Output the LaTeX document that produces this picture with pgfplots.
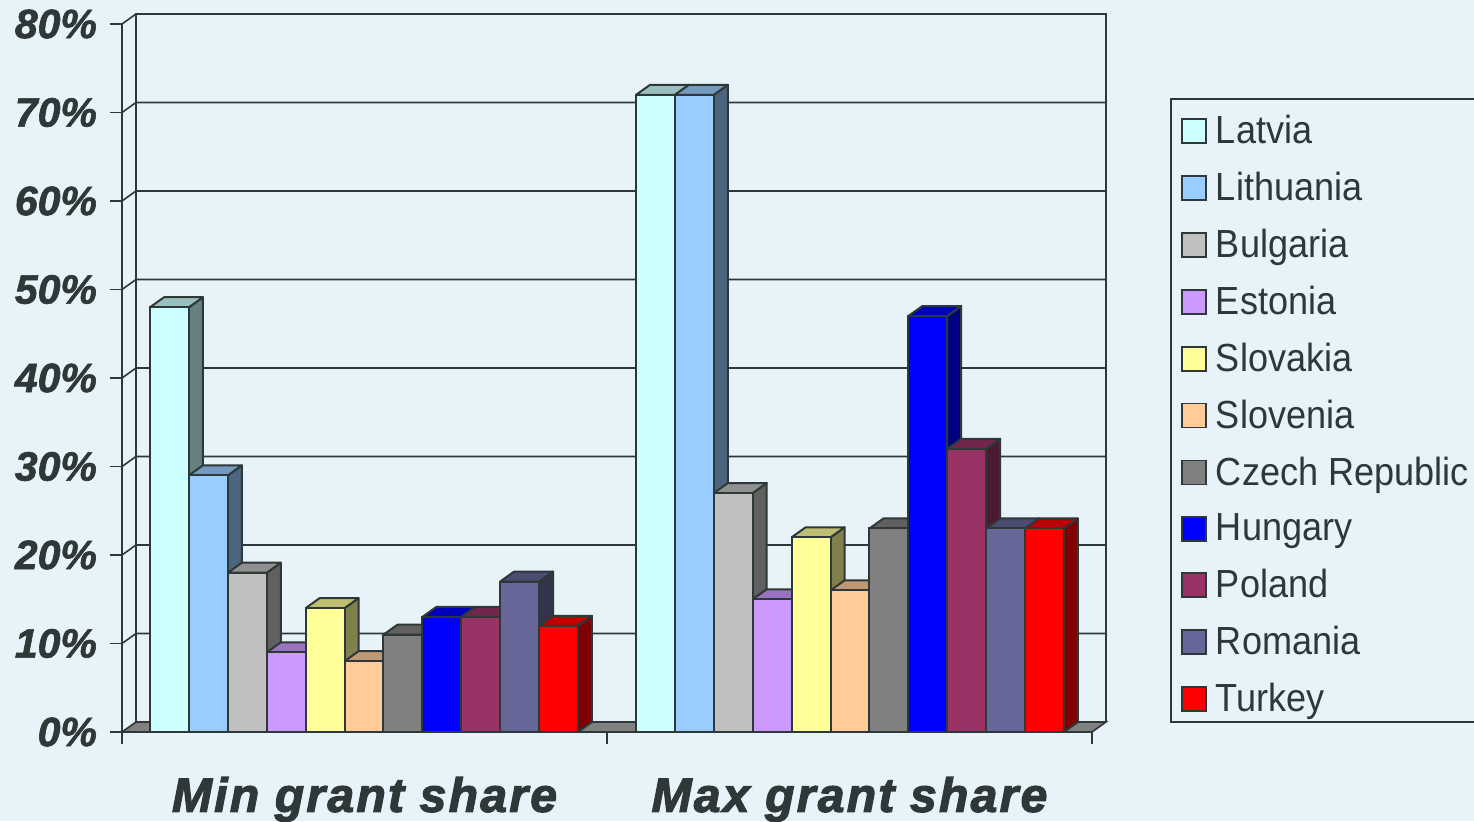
\documentclass[border=0pt]{standalone}
\usepackage{fontspec}
\setmainfont{Liberation Sans}
\usepackage{pgfplots}
\pgfplotsset{compat=1.18}
\newfontfamily\ticksfont[FakeBold=1.5]{Liberation Sans Bold Italic}
\newfontfamily\catfont[LetterSpace=4.8,FakeBold=2.5]{Liberation Sans Bold Italic}
\newfontfamily\legfont[FakeStretch=0.92]{Liberation Sans}
\definecolor{bg}{HTML}{E8F3F9}
\definecolor{ink}{HTML}{2F3838}
\definecolor{floorc}{HTML}{808080}
\definecolor{cLatvia}{HTML}{CCFFFF}
\definecolor{cLithuania}{HTML}{99CCFF}
\definecolor{cBulgaria}{HTML}{C0C0C0}
\definecolor{cEstonia}{HTML}{CC99FF}
\definecolor{cSlovakia}{HTML}{FFFF99}
\definecolor{cSlovenia}{HTML}{FFCC99}
\definecolor{cCzech}{HTML}{808080}
\definecolor{cHungary}{HTML}{0000FF}
\definecolor{cPoland}{HTML}{993366}
\definecolor{cRomania}{HTML}{666699}
\definecolor{cTurkey}{HTML}{FF0000}

% bar width and depth of the 3D look, in axis units (1 group = 485 px, 10% = 88.5 px)
\def\bw{0.0802}
\def\dx{0.02887}
\def\dy{1.13}

% side and top face of one bar: group centre, series index, value, colour
\newcommand{\faces}[4]{%
  \pgfmathsetmacro\xl{#1+(#2-5.5)*\bw}%
  \pgfmathsetmacro\xr{\xl+\bw}%
  \pgfmathsetmacro\xlb{\xl+\dx}%
  \pgfmathsetmacro\xrb{\xr+\dx}%
  \pgfmathsetmacro\vb{#3+\dy}%
  \addplot[forget plot,no markers,fill=#4!50!black,draw=ink,line width=1pt,line join=round]
    coordinates {(\xr,0) (\xr,#3) (\xrb,\vb) (\xrb,\dy) (\xr,0)};
  \addplot[forget plot,no markers,fill=#4!75!black,draw=ink,line width=1pt,line join=round]
    coordinates {(\xl,#3) (\xlb,\vb) (\xrb,\vb) (\xr,#3) (\xl,#3)};
}
% one country: name, series index, min share, max share, colour
\newcommand{\country}[5]{%
  \faces{0.499}{#2}{#3}{#5}%
  \faces{1.501}{#2}{#4}{#5}%
  \pgfmathsetmacro\bs{(#2-5)*\bw}%
  \edef\temp{\noexpand\addplot[ybar,bar width=\bw,bar shift=\bs,fill=#5,draw=ink,
      line width=1pt,swatch] coordinates {(0.499,#3) (1.501,#4)};}%
  \temp
  \addlegendentry{\makebox[170pt][l]{\hspace{2.5pt}#1}}%
}

\begin{document}
\begin{tikzpicture}
\path[fill=bg,use as bounding box] (-61pt,-44.5pt) rectangle (676pt,366pt);
\clip (-61pt,-44.5pt) rectangle (676pt,366pt);
\begin{axis}[
    at={(0,0)}, anchor=south west,
    scale only axis, width=485pt, height=354pt,
    xmin=0, xmax=2, ymin=0, ymax=80,
    clip=false,
    axis x line=bottom, axis y line=left,
    axis line style={-,draw=ink,line width=0.8pt},
    tick align=outside, major tick length=6pt,
    tick style={draw=ink,line width=0.8pt},
    xtick={0,1,2}, xticklabels={},
    extra x ticks={0.5,1.5},
    extra x tick labels={Min grant share,Max grant share},
    extra x tick style={major tick length=0pt,
      tick label style={font=\catfont\fontsize{24}{26}\selectfont,text=ink,yshift=-19pt}},
    ytick={0,10,...,80},
    yticklabel={\pgfmathprintnumber{\tick}\%},
    y tick label style={font=\ticksfont\fontsize{20.5}{24}\selectfont,text=ink,xshift=-3pt},
    /pgf/number format/assume math mode=true,
    swatch/.style={legend image code/.code={\draw[##1,line width=0.8pt] (0pt,-6pt) rectangle (12pt,6pt);}},
    legend cell align=left,
    legend style={at={(1.0814,0.894)},anchor=north west,draw=none,fill=none,
      font=\legfont\fontsize{19.6}{22}\selectfont,text=ink,row sep=8.75pt,
      inner xsep=5pt,inner ysep=6pt},
]
% back wall, floor and left wall
\addplot[forget plot,no markers,fill=floorc,draw=ink,line width=0.8pt]
  coordinates {(0,0) (0.02887,1.13) (2.02887,1.13) (2,0) (0,0)};
\pgfplotsinvokeforeach{10,20,...,80}{
  \draw[ink,line width=0.8pt] (axis cs:0,#1) -- (axis cs:0.02887,{#1+1.13}) -- (axis cs:2.02887,{#1+1.13});
}
\draw[ink,line width=0.9pt] (axis cs:0.02887,1.13) -- (axis cs:0.02887,81.13) -- (axis cs:2.02887,81.13) -- (axis cs:2.02887,1.13);
% legend frame, running off the right edge as in the original
\draw[ink,line width=0.8pt] (rel axis cs:1.0814,0.894) rectangle (rel axis cs:1.6,0.0141);

\country{Latvia}{0}{48}{72}{cLatvia}
\country{Lithuania}{1}{29}{72}{cLithuania}
\country{Bulgaria}{2}{18}{27}{cBulgaria}
\country{Estonia}{3}{9}{15}{cEstonia}
\country{Slovakia}{4}{14}{22}{cSlovakia}
\country{Slovenia}{5}{8}{16}{cSlovenia}
\country{Czech Republic}{6}{11}{23}{cCzech}
\country{Hungary}{7}{13}{47}{cHungary}
\country{Poland}{8}{13}{32}{cPoland}
\country{Romania}{9}{17}{23}{cRomania}
\country{Turkey}{10}{12}{23}{cTurkey}
\end{axis}
\end{tikzpicture}
\end{document}
